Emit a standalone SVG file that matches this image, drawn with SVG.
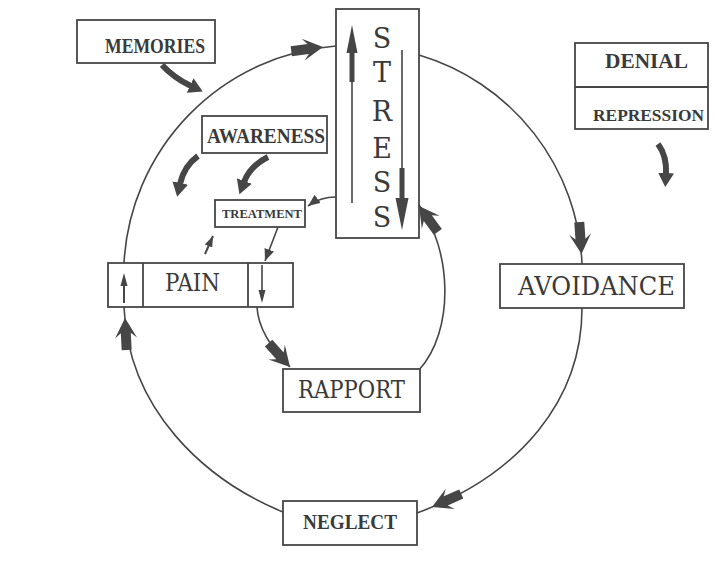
<svg xmlns="http://www.w3.org/2000/svg" xmlns:xlink="http://www.w3.org/1999/xlink" width="717" height="575" viewBox="0 0 717 575">
<style>
.box{fill:none;stroke:#464646;stroke-width:1.8}
.ln{fill:none;stroke:#464646;stroke-width:1.6}
.fat{fill:none;stroke:#464646;stroke-width:6}
.hd{fill:#464646}
.t{font-family:"Liberation Serif","DejaVu Serif",serif;fill:#3a3a3a}
.r{font-family:"DejaVu Serif","Liberation Serif",serif;fill:#3a3a3a}
.b{font-weight:bold}
</style>
<defs>
<path id="bigHead" d="M0,0 L-20,-11 L-15,-5 L-32,-5 L-32,5 L-15,5 L-20,11 Z"/>
<marker id="tri" viewBox="0 0 12 10" refX="12" refY="5" markerWidth="12" markerHeight="10" markerUnits="userSpaceOnUse" orient="auto"><path d="M0,0 L12,5 L0,10 Z" fill="#464646"/></marker>
<marker id="triS" viewBox="0 0 11 8" refX="11" refY="4" markerWidth="11" markerHeight="8" markerUnits="userSpaceOnUse" orient="auto"><path d="M0,0 L11,4 L0,8 Z" fill="#464646"/></marker>
<marker id="fatHead" viewBox="0 0 14 16" refX="1" refY="8" markerWidth="14" markerHeight="16" markerUnits="userSpaceOnUse" orient="auto"><path d="M0,0 L14,8 L0,16 Z" fill="#464646"/></marker>
</defs>
<rect width="717" height="575" fill="#fff"/>

<g id="connectors">
<path class="ln" d="M124,263 A230,230 0 0 1 336,46"/>
<use xlink:href="#bigHead" class="hd" transform="translate(323,47) rotate(-7.7)"/>
<path class="ln" d="M419,55 A228,228 0 0 1 582,264"/>
<use xlink:href="#bigHead" class="hd" transform="translate(581.5,254) rotate(86)"/>
<path class="ln" d="M582,308 C582,400 520,475 417,513"/>
<use xlink:href="#bigHead" class="hd" transform="translate(432,507) rotate(156)"/>
<path class="ln" d="M283,512 C205,480 128,410 124,307"/>
<use xlink:href="#bigHead" class="hd" transform="translate(125,318) rotate(-93)"/>
<path class="ln" d="M257,307 C258,326 268,345 290,367"/>
<use xlink:href="#bigHead" class="hd" transform="translate(290,367) rotate(48)"/>
<path class="ln" d="M419,370 C455,330 452,250 419,205"/>
<use xlink:href="#bigHead" class="hd" transform="translate(419,206) rotate(-126)"/>
<path class="ln" d="M336,197 Q320,197 308,206" marker-end="url(#tri)"/>
<path class="ln" d="M278,227 L265,261" marker-end="url(#tri)"/>
<path class="ln" style="stroke-width:2" d="M205,254 L213,236" marker-end="url(#triS)"/>
<path class="fat" d="M162,65 Q174,78 191,86" marker-end="url(#fatHead)"/>
<path class="fat" d="M198,156 Q184,166 180,184" marker-end="url(#fatHead)"/>
<path class="fat" d="M268,157 Q250,166 244,182" marker-end="url(#fatHead)"/>
<path class="fat" d="M658,144 Q667,156 666,174" marker-end="url(#fatHead)"/>
</g>

<g id="stress">
<rect class="box" x="336" y="9" width="83" height="229"/>
<line class="ln" x1="352" y1="203" x2="352" y2="80"/>
<rect class="hd" x="349.5" y="50" width="5" height="32"/>
<polygon class="hd" points="352,25 346.5,53 357.5,53"/>
<line class="ln" x1="402" y1="50" x2="402" y2="170"/>
<rect class="hd" x="399.5" y="168" width="5" height="32"/>
<polygon class="hd" points="395.5,198 408.5,198 402,230"/>
<g class="r" font-size="27" text-anchor="middle">
<text x="382" y="48">S</text>
<text x="382" y="82">T</text>
<text x="382" y="121">R</text>
<text x="382" y="158">E</text>
<text x="382" y="192">S</text>
<text x="382" y="227">S</text>
</g>
</g>

<g id="memories">
<rect class="box" x="77" y="20" width="138" height="43"/>
<text class="t b" x="105" y="53" font-size="20" textLength="100" lengthAdjust="spacingAndGlyphs">MEMORIES</text>
</g>

<g id="denial">
<rect class="box" x="575" y="43" width="133" height="86"/>
<line class="box" x1="575" y1="87" x2="708" y2="87"/>
<text class="t b" x="605" y="68" font-size="21" textLength="83" lengthAdjust="spacingAndGlyphs">DENIAL</text>
<text class="t b" x="593" y="121" font-size="17" textLength="111" lengthAdjust="spacingAndGlyphs">REPRESSION</text>
</g>

<g id="awareness">
<rect class="box" x="202" y="116" width="125" height="37"/>
<text class="t b" x="207" y="143" font-size="20" textLength="118" lengthAdjust="spacingAndGlyphs">AWARENESS</text>
</g>

<g id="treatment">
<rect class="box" x="215" y="200" width="90" height="27"/>
<text class="t b" x="222" y="218" font-size="13" textLength="80" lengthAdjust="spacingAndGlyphs">TREATMENT</text>
</g>

<g id="pain">
<rect class="box" x="108" y="263" width="185" height="44"/>
<line class="box" x1="143" y1="263" x2="143" y2="307"/>
<line class="box" x1="248" y1="263" x2="248" y2="307"/>
<line class="ln" style="stroke-width:2" x1="124" y1="303" x2="124" y2="283"/>
<polygon class="hd" points="124,273 120.5,286 127.5,286"/>
<line class="ln" x1="262" y1="265" x2="262" y2="292"/>
<polygon class="hd" points="258.5,290 265.5,290 262,303"/>
<text class="r" x="165" y="291" font-size="24" textLength="55" lengthAdjust="spacingAndGlyphs">PAIN</text>
</g>

<g id="avoidance">
<rect class="box" x="500" y="264" width="184" height="44"/>
<text class="r" x="518" y="295" font-size="26" textLength="157" lengthAdjust="spacingAndGlyphs">AVOIDANCE</text>
</g>

<g id="rapport">
<rect class="box" x="283" y="369" width="137" height="43"/>
<text class="r" x="298" y="398" font-size="24" textLength="107" lengthAdjust="spacingAndGlyphs">RAPPORT</text>
</g>

<g id="neglect">
<rect class="box" x="283" y="501" width="134" height="44"/>
<text class="t b" x="303" y="529" font-size="21" textLength="94" lengthAdjust="spacingAndGlyphs">NEGLECT</text>
</g>
</svg>
